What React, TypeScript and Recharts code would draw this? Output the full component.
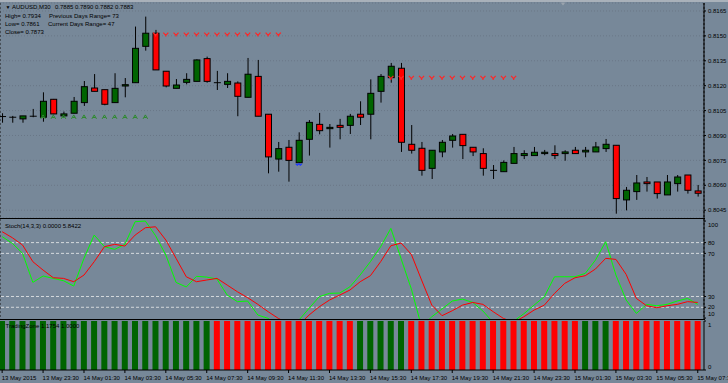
import React from 'react';
import {
  ComposedChart,
  Bar,
  Line,
  Scatter,
  XAxis,
  YAxis,
  ReferenceLine,
  CartesianGrid,
  Cell,
} from 'recharts';

const FONT = '"Liberation Sans", Arial, Helvetica, sans-serif';
const BG = '#778899';
const GRID = '#6a7787';
const UP_FILL = '#006400';
const DOWN_FILL = '#ff0000';
const TEXT = '#000000';

// ---------- data ----------
const opens = [
  0.81014, 0.8101, 0.81, 0.8101, 0.8101, 0.81118, 0.81018, 0.81034, 0.81098, 0.81186,
  0.81176, 0.81098, 0.81198, 0.81218, 0.81437, 0.81516, 0.81287, 0.81184, 0.8122, 0.81226,
  0.81363, 0.81218, 0.81208, 0.81216, 0.8113, 0.81256, 0.81028, 0.80758, 0.80829, 0.80736,
  0.80877, 0.80967, 0.80941, 0.80961, 0.80961, 0.81028, 0.81028, 0.81166, 0.81248, 0.81305,
  0.80847, 0.80823, 0.80702, 0.80801, 0.80871, 0.80907, 0.80829, 0.80791, 0.8069, 0.80682,
  0.80732, 0.80779, 0.80779, 0.80791, 0.80791, 0.80791, 0.80811, 0.80801, 0.80801, 0.80821,
  0.80841, 0.80512, 0.80562, 0.8062, 0.8062, 0.80542, 0.8061, 0.80662, 0.80566,
];
const highs = [
  0.81034, 0.81018, 0.81018, 0.8106, 0.8116, 0.8112, 0.81044, 0.81132, 0.81228, 0.8127,
  0.81176, 0.81275, 0.81246, 0.81556, 0.81616, 0.81536, 0.81287, 0.8124, 0.81275, 0.81359,
  0.81375, 0.81289, 0.81275, 0.81226, 0.81367, 0.81355, 0.81028, 0.80861, 0.80873, 0.80919,
  0.80993, 0.81036, 0.80969, 0.81, 0.8103, 0.81106, 0.81238, 0.8127, 0.81337, 0.81337,
  0.80963, 0.80861, 0.80811, 0.80873, 0.80909, 0.80907, 0.80829, 0.80823, 0.80722, 0.8075,
  0.80831, 0.80811, 0.80831, 0.80813, 0.80841, 0.80811, 0.80831, 0.80831, 0.80861, 0.80879,
  0.80841, 0.8059, 0.80662, 0.8065, 0.8062, 0.80662, 0.80662, 0.80662, 0.80602,
];
const lows = [
  0.80977, 0.80977, 0.80977, 0.8101, 0.80983, 0.81028, 0.81014, 0.81034, 0.81078, 0.81166,
  0.81082, 0.81098, 0.8113, 0.81218, 0.81411, 0.81295, 0.8119, 0.81184, 0.81208, 0.81226,
  0.81218, 0.81174, 0.81186, 0.81016, 0.8113, 0.81016, 0.80672, 0.80682, 0.80622, 0.80736,
  0.80779, 0.80907, 0.80827, 0.80877, 0.80909, 0.80963, 0.80877, 0.81098, 0.81218, 0.80801,
  0.80791, 0.80658, 0.80638, 0.80769, 0.80827, 0.80758, 0.80776, 0.80658, 0.80638, 0.80682,
  0.80732, 0.80758, 0.80779, 0.80781, 0.80758, 0.80748, 0.80791, 0.80769, 0.80801, 0.80801,
  0.80429, 0.80449, 0.80512, 0.80562, 0.8052, 0.80542, 0.80562, 0.8055, 0.80532,
];
const closes = [
  0.81013, 0.8101, 0.81018, 0.81016, 0.81106, 0.8103, 0.8103, 0.81106, 0.81194, 0.81166,
  0.81088, 0.81184, 0.81206, 0.81425, 0.81516, 0.81295, 0.81198, 0.81204, 0.81238, 0.81355,
  0.81226, 0.81218, 0.81226, 0.81136, 0.81269, 0.81016, 0.80771, 0.80821, 0.8075, 0.80871,
  0.80979, 0.80929, 0.80949, 0.80949, 0.81016, 0.8101, 0.81154, 0.81256, 0.81317, 0.80859,
  0.80811, 0.8069, 0.80811, 0.80859, 0.80897, 0.80839, 0.80801, 0.80702, 0.8069, 0.80738,
  0.80791, 0.80791, 0.80799, 0.80799, 0.80779, 0.80801, 0.80791, 0.80811, 0.80831, 0.80847,
  0.8052, 0.8057, 0.80614, 0.8061, 0.8055, 0.8062, 0.8065, 0.8057, 0.80552,
];

const stochK = [
  85.5, 79.3, 70, 43.1, 49, 46.8, 44.6, 39.7, 65.4, 87,
  76.2, 73.7, 78.4, 99.4, 100, 86.4, 68.5, 43.1, 38.8, 48.7,
  48, 46.2, 31.3, 25.2, 25.8, 12.8, 9.7, 3, 0, 8,
  19, 29.8, 32.9, 33.2, 39, 50, 62.3, 76.2, 93.2, 65,
  37, 2, 11.2, 18.4, 25.8, 27.6, 24.5, 16.5, 6, 0,
  7, 14, 22, 29.8, 48.3, 48.3, 48.3, 51.4, 63.8, 80.8,
  49.9, 26.7, 14.3, 22.7, 21.4, 22.7, 25.8, 28.2, 22.7,
];
const stochD = [
  90.1, 84.5, 77.7, 62.3, 54.5, 47.4, 46.8, 43.7, 49.9, 62.3,
  76.2, 78.4, 76.8, 87, 93.8, 94.7, 82.4, 65.4, 48.3, 43.7,
  45.3, 46.8, 40.6, 34.4, 28.9, 22.7, 15.9, 9.7, 5, 3.5,
  12.8, 20.5, 26.7, 31.3, 36, 43.7, 49.3, 62.3, 77.1, 79.6,
  69.1, 45.3, 22, 12.2, 16.8, 22, 24.5, 22.7, 15.9, 9.7,
  6, 11.2, 17.4, 22, 32.9, 42.2, 47.4, 49.3, 55.5, 65.4,
  64.4, 50.5, 28.2, 21.4, 19.6, 21.4, 22.7, 25.2, 24.5,
];

// Trading zone: value per bar and zone colour (G = green, R = red)
const tzValues = [
  1, 1, 1, 1, 1, 1, 1, 1, 1, 1, 1, 1, 1, 1, 1, 1, 1, 1, 1, 1, 1, 1, 1,
  1, 1, 1, 1, 1, 1, 1, 1, 1, 1, 1, 1, 1, 1, 1, 1, 1, 1, 1, 1, 1, 1, 1,
  1, 1, 1, 1, 1, 1, 1, 1, 1, 1, 1, 1, 1, 1, 1, 1, 1, 1, 1, 1, 1, 1, 1,
];
const tzZones = [
  'G', 'G', 'G', 'G', 'G', 'G', 'G', 'G', 'G', 'G', 'G', 'G', 'G', 'G', 'G', 'G', 'G', 'G', 'G', 'G', 'G',
  'R', 'R', 'R', 'R', 'R', 'R', 'R', 'R', 'R', 'R', 'R', 'R', 'R', 'R',
  'G', 'G', 'G', 'G', 'G',
  'R', 'R', 'R', 'R', 'R', 'R', 'R', 'R', 'R', 'R', 'R', 'R', 'R', 'R', 'R', 'R', 'R',
  'G', 'G', 'G',
  'R', 'R', 'R', 'R', 'R', 'R', 'R', 'R', 'R',
];

const priceTicks = [0.8045, 0.806, 0.8075, 0.809, 0.8105, 0.812, 0.8135, 0.815, 0.8165];
const stochTicks = [100, 80, 70, 30, 20, 10];
const stochLevels = [80, 70, 30, 20];
const tzTicks = [0, 1];

const gridBars = [
  0, 2, 4, 6, 8, 10, 12, 14, 16, 18, 20, 22, 24, 26, 28, 30, 32, 34,
  36, 38, 40, 42, 44, 46, 48, 50, 52, 54, 56, 58, 60, 62, 64, 66, 68,
];
const separatorBars = [5, 53];
const dateTickBars = [0, 4, 8, 12, 16, 20, 24, 28, 32, 36, 40, 44, 48, 52, 56, 60, 64, 68];
const dateLabels = [
  '13 May 2015', '13 May 23:30', '14 May 01:30', '14 May 03:30', '14 May 05:30',
  '14 May 07:30', '14 May 09:30', '14 May 11:30', '14 May 13:30', '14 May 15:30',
  '14 May 17:30', '14 May 19:30', '14 May 21:30', '14 May 23:30', '15 May 01:30',
  '15 May 03:30', '15 May 05:30', '15 May 07:30',
];

const sellBars1 = [15, 16, 17, 18, 19, 20, 21, 22, 23, 24, 25, 26, 27];
const SELL_LEVEL_1 = 0.81509;
const sellBars2 = [38, 39, 40, 41, 42, 43, 44, 45, 46, 47, 48, 49, 50];
const SELL_LEVEL_2 = 0.81248;
const buyBars = [4, 5, 6, 7, 8, 9, 10, 11, 12, 13, 14];
const BUY_LEVEL = 0.81012;
const blueBars = [29];
const BLUE_LEVEL = 0.8073;

const X_DOMAIN: [number, number] = [-0.21, 68.61];
const PRICE_DOMAIN: [number, number] = [0.80403, 0.81698];
const STOCH_DOMAIN: [number, number] = [9.12, 101.9];

// ---------- derived tables ----------
const rows = opens.map((o, i) => ({
  i,
  o,
  h: highs[i],
  l: lows[i],
  c: closes[i],
  k: stochK[i],
  d: stochD[i],
  tz: tzValues[i],
  zone: tzZones[i],
}));
const sellData = [
  ...sellBars1.map((i) => ({ i, p: SELL_LEVEL_1 })),
  ...sellBars2.map((i) => ({ i, p: SELL_LEVEL_2 })),
];
const buyData = buyBars.map((i) => ({ i, p: BUY_LEVEL }));
const blueData = blueBars.map((i) => ({ i, p: BLUE_LEVEL }));

// ---------- shapes ----------
const Candle = (props: any) => {
  const { x, y, width, height, payload } = props;
  if (x == null || y == null || !payload) return null;
  const { o, h, l, c } = payload;
  const cx = x + width / 2;
  const ratio = h === l ? 0 : height / (h - l);
  const py = (p: number) => y + (h - p) * ratio;
  const top = py(Math.max(o, c));
  const bot = py(Math.min(o, c));
  const up = c > o;
  return (
    <g>
      <line x1={cx} x2={cx} y1={y} y2={y + height} stroke="#000" strokeWidth={1} />
      {bot - top < 1.2 ? (
        <line x1={cx - 3.5} x2={cx + 3.5} y1={top} y2={top} stroke="#000" strokeWidth={1} />
      ) : (
        <rect
          x={cx - 3}
          y={top}
          width={6}
          height={bot - top}
          fill={up ? UP_FILL : DOWN_FILL}
          stroke="#000"
          strokeWidth={1}
        />
      )}
    </g>
  );
};

const SellMark = (props: any) => {
  const { cx, cy } = props;
  if (cx == null || cy == null) return null;
  return (
    <path
      d={`M${cx - 2.5},${cy - 1.8} L${cx},${cy + 1} L${cx + 2.5},${cy - 1.8} M${cx},${cy + 1} L${cx},${cy + 2.2}`}
      stroke="#ff2626"
      strokeWidth={1.2}
      fill="none"
    />
  );
};

const BuyMark = (props: any) => {
  const { cx, cy } = props;
  if (cx == null || cy == null) return null;
  return (
    <path
      d={`M${cx - 2.3},${cy + 2} L${cx},${cy - 2} L${cx + 2.3},${cy + 2} M${cx - 1.2},${cy + 0.6} L${cx + 1.2},${cy + 0.6}`}
      stroke="#2f8a2f"
      strokeWidth={1}
      fill="none"
    />
  );
};

const BlueMark = (props: any) => {
  const { cx, cy } = props;
  if (cx == null || cy == null) return null;
  return (
    <path
      d={`M${cx - 3},${cy} L${cx - 1.5},${cy + 1.5} L${cx},${cy} L${cx + 1.5},${cy + 1.5} L${cx + 3},${cy}`}
      stroke="#1f3cff"
      strokeWidth={1.2}
      fill="none"
    />
  );
};

const StochTick = (props: any) => {
  const { x, y, payload } = props;
  const v = payload.value;
  const shift = v === 100 ? 4 : v === 10 ? -4 : 0;
  return (
    <text x={x} y={y + shift} dy={2.2} fontSize={6} fontFamily={FONT} fill={TEXT} textAnchor="start">
      {v}
    </text>
  );
};

const TzTick = (props: any) => {
  const { x, y, payload } = props;
  const v = payload.value;
  const shift = v === 1 ? 4 : -3;
  return (
    <text x={x} y={y + shift} dy={2.2} fontSize={6} fontFamily={FONT} fill={TEXT} textAnchor="start">
      {v}
    </text>
  );
};

const DateTick = (props: any) => {
  const { x, y, payload } = props;
  const idx = dateTickBars.indexOf(payload.value);
  return (
    <text x={x - 0.5} y={y} dy={4.5} fontSize={6} fontFamily={FONT} fill={TEXT} textAnchor="start">
      {dateLabels[idx]}
    </text>
  );
};

const hiddenX = (id: string, ticks: number[]) => (
  <XAxis
    xAxisId={id}
    type="number"
    dataKey="i"
    domain={X_DOMAIN}
    allowDataOverflow
    ticks={ticks}
    interval={0}
    height={0}
    tick={false}
    axisLine={false}
    tickLine={false}
  />
);

export default function App() {
  return (
    <div
      style={{
        position: 'absolute',
        left: 0,
        top: 0,
        width: 728,
        height: 383,
        background: BG,
        overflow: 'hidden',
      }}
    >
      {/* main price pane */}
      <div style={{ position: 'absolute', left: 0, top: 0 }}>
        <ComposedChart width={728} height={218} data={rows} margin={{ top: 3, right: 0, bottom: 0, left: 0 }}>
          {hiddenX('main', gridBars)}
          {hiddenX('sep', separatorBars)}
          <YAxis
            yAxisId="p"
            orientation="right"
            width={24}
            type="number"
            domain={PRICE_DOMAIN}
            allowDataOverflow
            ticks={priceTicks}
            interval={0}
            tickFormatter={(v: number) => v.toFixed(4)}
            tick={{ fontSize: 6, fill: TEXT, fontFamily: FONT }}
            tickSize={2}
            tickMargin={2}
            axisLine={{ stroke: '#000' }}
            tickLine={{ stroke: '#000' }}
          />
          <CartesianGrid xAxisId="main" yAxisId="p" stroke={GRID} strokeDasharray="1 2" />
          <CartesianGrid xAxisId="sep" yAxisId="p" horizontal={false} stroke="#1a1a1a" strokeDasharray="2 2" />
          <Bar
            xAxisId="main"
            yAxisId="p"
            dataKey={(r: any) => [r.l, r.h]}
            barSize={7}
            shape={Candle}
            isAnimationActive={false}
          />
          <Scatter xAxisId="main" yAxisId="p" data={buyData} dataKey="p" shape={BuyMark} isAnimationActive={false} />
          <Scatter xAxisId="main" yAxisId="p" data={sellData} dataKey="p" shape={SellMark} isAnimationActive={false} />
          <Scatter xAxisId="main" yAxisId="p" data={blueData} dataKey="p" shape={BlueMark} isAnimationActive={false} />
        </ComposedChart>
      </div>

      {/* stochastic pane */}
      <div style={{ position: 'absolute', left: 0, top: 219 }}>
        <ComposedChart width={728} height={100} data={rows} margin={{ top: 0, right: 0, bottom: 0, left: 0 }}>
          {hiddenX('main', gridBars)}
          {hiddenX('sep', separatorBars)}
          <YAxis
            yAxisId="s"
            orientation="right"
            width={24}
            type="number"
            domain={STOCH_DOMAIN}
            allowDataOverflow
            ticks={stochTicks}
            interval={0}
            tick={StochTick}
            tickSize={2}
            tickMargin={2}
            axisLine={{ stroke: '#000' }}
            tickLine={{ stroke: '#000' }}
          />
          <CartesianGrid xAxisId="main" yAxisId="s" horizontal={false} stroke={GRID} strokeDasharray="1 2" />
          <CartesianGrid xAxisId="sep" yAxisId="s" horizontal={false} stroke="#1a1a1a" strokeDasharray="2 2" />
          {stochLevels.map((v) => (
            <ReferenceLine
              key={v}
              xAxisId="main"
              yAxisId="s"
              y={v}
              stroke="#d4d8dc"
              strokeDasharray="3 2"
            />
          ))}
          <Line
            xAxisId="main"
            yAxisId="s"
            type="linear"
            dataKey="k"
            stroke="#00ff00"
            strokeWidth={1}
            dot={false}
            isAnimationActive={false}
          />
          <Line
            xAxisId="main"
            yAxisId="s"
            type="linear"
            dataKey="d"
            stroke="#ff0000"
            strokeWidth={1}
            dot={false}
            isAnimationActive={false}
          />
        </ComposedChart>
      </div>

      {/* trading zone pane */}
      <div style={{ position: 'absolute', left: 0, top: 320 }}>
        <ComposedChart width={728} height={63} data={rows} margin={{ top: 1, right: 0, bottom: 0, left: 0 }}>
          <XAxis
            xAxisId="main"
            type="number"
            dataKey="i"
            domain={X_DOMAIN}
            allowDataOverflow
            ticks={dateTickBars}
            interval={0}
            height={13}
            tick={DateTick}
            tickSize={3}
            tickMargin={2}
            axisLine={{ stroke: '#000' }}
            tickLine={{ stroke: '#000' }}
          />
          <YAxis
            yAxisId="t"
            orientation="right"
            width={24}
            type="number"
            domain={[0, 1]}
            allowDataOverflow
            ticks={tzTicks}
            interval={0}
            tick={TzTick}
            tickSize={2}
            tickMargin={2}
            axisLine={{ stroke: '#000' }}
            tickLine={{ stroke: '#000' }}
          />
          <Bar xAxisId="main" yAxisId="t" dataKey="tz" barSize={6} isAnimationActive={false}>
            {rows.map((r) => (
              <Cell key={r.i} fill={r.zone === 'G' ? UP_FILL : DOWN_FILL} />
            ))}
          </Bar>
        </ComposedChart>
      </div>

      {/* pane separators and window edge */}
      <div style={{ position: 'absolute', left: 0, top: 0, width: 728, height: 2, background: '#a9b1ba' }} />
      <div style={{ position: 'absolute', left: 0, top: 218, width: 705, height: 1, background: '#000' }} />
      <div style={{ position: 'absolute', left: 0, top: 319, width: 705, height: 1, background: '#000' }} />

      {/* text overlay */}
      <svg
        width={728}
        height={383}
        style={{ position: 'absolute', left: 0, top: 0, pointerEvents: 'none' }}
        fontFamily={FONT}
        fontSize={6}
        fill={TEXT}
      >
        <text x={5.5} y={9} fontSize={5}>▼</text>
        <text x={12} y={9}>AUDUSD,M30</text>
        <text x={55} y={9}>0.7885 0.7890 0.7882 0.7883</text>
        <text x={5} y={18}>High= 0.7934</text>
        <text x={49} y={18}>Previous Days Range= 73</text>
        <text x={5} y={26}>Low= 0.7861</text>
        <text x={48} y={26}>Current Days Range= 47</text>
        <text x={5} y={34}>Close= 0.7873</text>
        <text x={5} y={227.7}>Stoch(14,3,3) 0.0000 5.8422</text>
        <text x={5.5} y={327.7}>TradingZone 1.1754 1.0000</text>
        <path d="M560.5,2.5 L565.5,2.5 L563,5.5 Z" fill="#9aa3ad" />
      </svg>
    </div>
  );
}
